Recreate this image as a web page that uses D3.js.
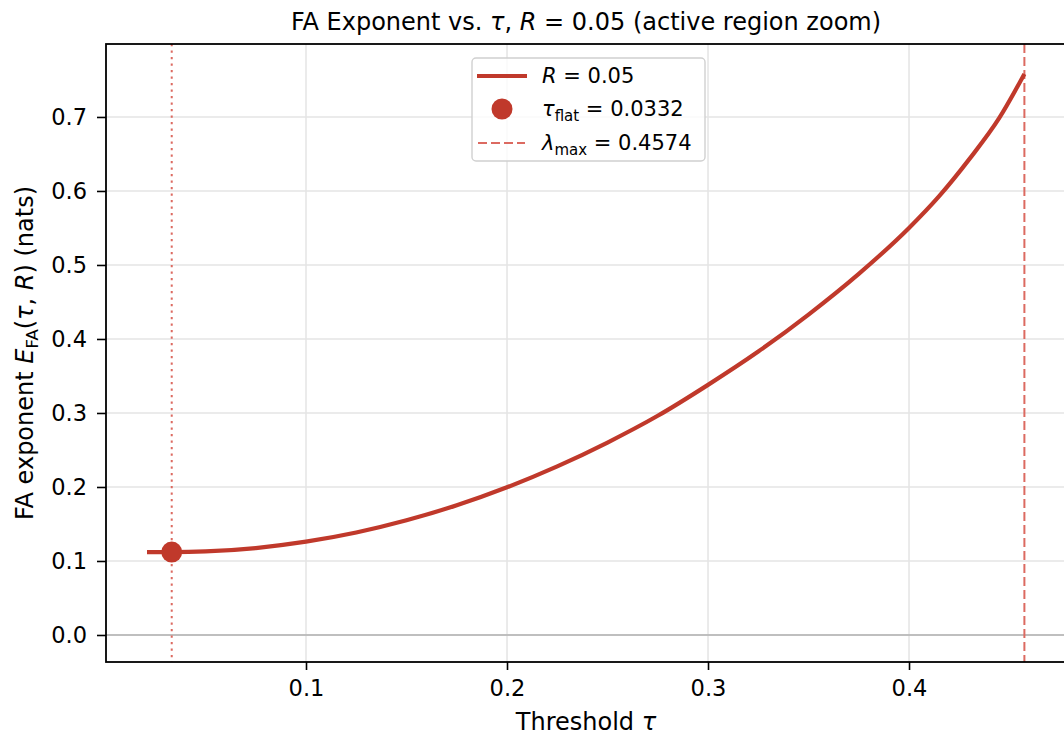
<!DOCTYPE html>
<html>
<head>
<meta charset="utf-8">
<script src="https://cdn.jsdelivr.net/npm/d3@7"></script>
<style>
  html, body { margin: 0; padding: 0; background: #fff; }
  svg { display: block; font-family: "DejaVu Sans", sans-serif; }
</style>
</head>
<body>
<svg id="chart" width="1064" height="736"></svg>
<script>
// ---- Data ----
const tauValues = [0.0209, 0.0332, 0.05, 0.075, 0.1, 0.125, 0.15, 0.175, 0.2, 0.225, 0.25, 0.275, 0.3, 0.325, 0.35, 0.375, 0.4, 0.415, 0.43, 0.445, 0.4574];
const exponentValues = [0.112, 0.112, 0.1129, 0.1175, 0.1261, 0.1385, 0.155, 0.1753, 0.1996, 0.2279, 0.2601, 0.2962, 0.338, 0.383, 0.433, 0.488, 0.550, 0.593, 0.643, 0.699, 0.758];
const tauFlat = 0.0332;
const tauFlatValue = 0.112;
const lambdaMax = 0.4574;
const xTicks = [0.1, 0.2, 0.3, 0.4];
const yTicks = [0.0, 0.1, 0.2, 0.3, 0.4, 0.5, 0.6, 0.7];

// ---- Layout ----
const svg = d3.select("#chart");
const pLeft = 106, pRight = 1066, pTop = 44, pBottom = 662;
const color = "#c0392b";
const refColor = "#dc6a61";

const x = d3.scaleLinear().domain([0.0005, 0.4781]).range([pLeft, pRight]);
const y = d3.scaleLinear().domain([-0.0365, 0.7986]).range([pBottom, pTop]);

const clipId = "plotclip";
svg.append("defs").append("clipPath").attr("id", clipId)
  .append("rect").attr("x", pLeft).attr("y", pTop).attr("width", pRight - pLeft).attr("height", pBottom - pTop);

// grid
const grid = svg.append("g").attr("clip-path", `url(#${clipId})`);
grid.selectAll("line.vg").data(xTicks).enter().append("line")
  .attr("x1", d => x(d)).attr("x2", d => x(d)).attr("y1", pTop).attr("y2", pBottom)
  .attr("stroke", "#e4e4e4").attr("stroke-width", 1.5);
grid.selectAll("line.hg").data(yTicks).enter().append("line")
  .attr("y1", d => y(d)).attr("y2", d => y(d)).attr("x1", pLeft).attr("x2", pRight)
  .attr("stroke", "#e4e4e4").attr("stroke-width", 1.5);

// zero line
svg.append("line").attr("x1", pLeft).attr("x2", pRight).attr("y1", y(0)).attr("y2", y(0))
  .attr("stroke", "#b0b0b0").attr("stroke-width", 1.6);

// reference vertical lines
svg.append("line").attr("x1", x(tauFlat)).attr("x2", x(tauFlat)).attr("y1", pTop).attr("y2", pBottom)
  .attr("stroke", refColor).attr("stroke-width", 2).attr("stroke-dasharray", "2.2,4.3");
svg.append("line").attr("x1", x(lambdaMax)).attr("x2", x(lambdaMax)).attr("y1", pTop).attr("y2", pBottom)
  .attr("stroke", refColor).attr("stroke-width", 2).attr("stroke-dasharray", "9,4");

// curve
const data = tauValues.map((t, i) => ({ t, e: exponentValues[i] }));
const line = d3.line().x(d => x(d.t)).y(d => y(d.e)).curve(d3.curveMonotoneX);
svg.append("path").datum(data).attr("d", line)
  .attr("fill", "none").attr("stroke", color).attr("stroke-width", 4.2)
  .attr("clip-path", `url(#${clipId})`);

// flat point
svg.append("circle").attr("cx", x(tauFlat)).attr("cy", y(tauFlatValue)).attr("r", 10.5).attr("fill", color);

// axes
const xAxis = d3.axisBottom(x).tickValues(xTicks).tickFormat(d3.format(".1f")).tickSize(8).tickPadding(10);
const yAxis = d3.axisLeft(y).tickValues(yTicks).tickFormat(d3.format(".1f")).tickSize(9).tickPadding(10);
const gx = svg.append("g").attr("transform", `translate(0,${pBottom})`).call(xAxis);
const gy = svg.append("g").attr("transform", `translate(${pLeft},0)`).call(yAxis);
[gx, gy].forEach(g => {
  g.attr("font-size", null).attr("font-family", null);
  g.select(".domain").remove();
  g.selectAll("line").attr("stroke", "#000").attr("stroke-width", 1.6);
  g.selectAll("text").style("font-size", "22.5px").attr("fill", "#000").style("font-family", "'DejaVu Sans', sans-serif");
});

// spines
svg.append("rect").attr("x", pLeft).attr("y", pTop).attr("width", pRight - pLeft).attr("height", pBottom - pTop)
  .attr("fill", "none").attr("stroke", "#000").attr("stroke-width", 1.8);

// title
const title = svg.append("text").attr("x", 586).attr("y", 30).attr("text-anchor", "middle")
  .style("font-size", "24px").attr("fill", "#000");
title.append("tspan").text("FA Exponent vs. ");
title.append("tspan").text("τ").attr("font-style", "italic");
title.append("tspan").text(", ");
title.append("tspan").text("R").attr("font-style", "italic");
title.append("tspan").text(" = 0.05 (active region zoom)");

// x label
const xl = svg.append("text").attr("x", 586).attr("y", 730).attr("text-anchor", "middle")
  .style("font-size", "24px").attr("fill", "#000");
xl.append("tspan").text("Threshold ");
xl.append("tspan").text("τ").attr("font-style", "italic");

// y label
const yl = svg.append("text").attr("transform", `translate(33,${(pTop + pBottom) / 2}) rotate(-90)`)
  .attr("text-anchor", "middle").style("font-size", "24px").attr("fill", "#000");
yl.append("tspan").text("FA exponent ");
yl.append("tspan").text("E").attr("font-style", "italic");
yl.append("tspan").text("FA").style("font-size", "16.5px").attr("dy", 5);
yl.append("tspan").text("(").attr("dy", -5);
yl.append("tspan").text("τ").attr("font-style", "italic");
yl.append("tspan").text(", ");
yl.append("tspan").text("R").attr("font-style", "italic");
yl.append("tspan").text(") (nats)");

// legend
const lg = svg.append("g");
lg.append("rect").attr("x", 472).attr("y", 58).attr("width", 233).attr("height", 103).attr("rx", 4)
  .attr("fill", "#fff").attr("fill-opacity", 0.8).attr("stroke", "#d0d0d0").attr("stroke-width", 1.4);
lg.append("line").attr("x1", 477).attr("x2", 527).attr("y1", 76).attr("y2", 76)
  .attr("stroke", color).attr("stroke-width", 4.2);
lg.append("circle").attr("cx", 502).attr("cy", 109).attr("r", 10.5).attr("fill", color);
lg.append("line").attr("x1", 478).attr("x2", 525).attr("y1", 143).attr("y2", 143)
  .attr("stroke", refColor).attr("stroke-width", 2).attr("stroke-dasharray", "9,4");

const t1 = lg.append("text").attr("x", 542).attr("y", 83).style("font-size", "21px").attr("fill", "#000");
t1.append("tspan").text("R").attr("font-style", "italic");
t1.append("tspan").text(" = 0.05");

const t2 = lg.append("text").attr("x", 542).attr("y", 116).style("font-size", "21px").attr("fill", "#000");
t2.append("tspan").text("τ").attr("font-style", "italic");
t2.append("tspan").text("flat").style("font-size", "15px").attr("dy", 5);
t2.append("tspan").text(" = 0.0332").attr("dy", -5);

const t3 = lg.append("text").attr("x", 542).attr("y", 150).style("font-size", "21px").attr("fill", "#000");
t3.append("tspan").text("λ").attr("font-style", "italic");
t3.append("tspan").text("max").style("font-size", "15px").attr("dy", 5);
t3.append("tspan").text(" = 0.4574").attr("dy", -5);
</script>
</body>
</html>
